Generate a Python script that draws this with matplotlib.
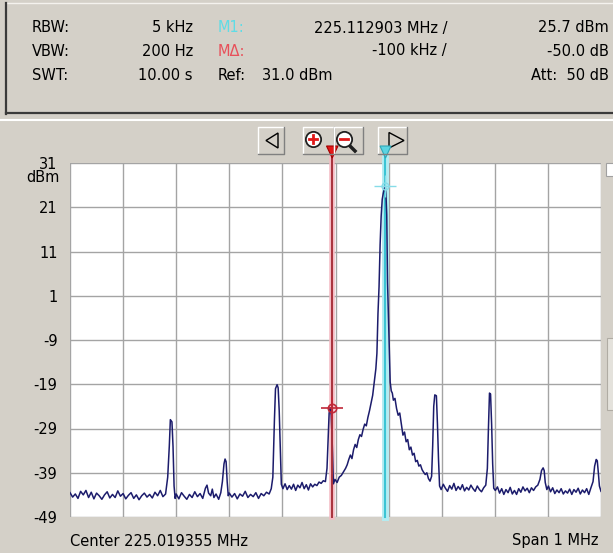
import numpy as np
import matplotlib.pyplot as plt
from matplotlib.patches import Rectangle, Polygon
from matplotlib.lines import Line2D

# analyzer settings shown in the header
center_mhz = 225.019355
span_mhz = 1.0
ref_dbm = 31.0
m1_mhz = 225.112903
m1_dbm = 25.7
delta_khz = -100
delta_db = -50.0

ytick_vals = [31, 21, 11, 1, -9, -19, -29, -39, -49]

# trace: offset from start of span (kHz) and level (dBm)
trace_khz = [
    0, 5, 10, 15, 20, 25, 30, 35, 40, 45, 50, 55, 60, 65, 70, 75, 80, 85, 90, 95,
    100, 105, 110, 115, 120, 125, 130, 135, 140, 145, 150, 155, 160, 165, 170, 175, 180,
    184, 187, 189, 192, 194, 196, 198,
    200, 205, 210, 215, 220, 225, 230, 235, 240, 245, 250, 255, 258, 261, 265, 268, 271, 275, 280, 284,
    287, 290, 292, 294, 296, 298,
    300, 305, 310, 315, 320, 325, 330, 335, 340, 345, 350, 355, 360, 365, 370, 375, 379, 382,
    385, 387, 390, 392, 394, 396, 398,
    401, 405, 409, 413, 417, 421, 425, 429, 433, 437, 441, 445, 449, 453, 457, 461, 465, 469, 473, 477, 481, 484,
    486, 488, 490, 492, 494, 496,
    499, 503, 507, 511, 515, 519, 522, 525, 528, 531, 534, 537, 540, 543, 546, 549, 552, 555, 558, 561, 564,
    567, 570, 573, 576, 578, 580, 582, 584, 586, 588, 590, 592, 593.5, 595, 596.5, 598, 600, 601.5, 603,
    605, 607, 609, 612, 615, 618, 621, 624, 627, 630, 633, 636, 639, 642, 645, 648, 651, 654, 657, 660,
    663, 666, 669, 672, 675, 678, 681,
    683, 685, 687, 690, 692, 694, 696,
    699, 703, 707, 711, 715, 719, 723, 727, 731, 735, 739, 743, 747, 751, 755, 759, 763, 767, 771, 775, 779, 783, 786,
    788, 790, 792, 794, 796, 798,
    801, 805, 809, 813, 817, 821, 825, 829, 833, 837, 841, 845, 849, 853, 857, 861, 865, 869, 873, 877, 881, 885,
    888, 891, 893, 895, 898,
    901, 905, 909, 913, 917, 921, 925, 929, 933, 937, 941, 945, 949, 953, 957, 961, 965, 969, 973, 977, 981, 985,
    988, 991, 993, 995, 997, 1000,
]
trace_dbm = [
    -43.5, -44.5, -43.8, -44.8, -43.2, -44.0, -43.0, -44.6, -43.4, -44.9, -43.6, -44.2, -45.0, -44.0, -43.3, -44.7, -43.9, -44.6, -43.1, -44.3,
    -43.7, -44.9, -44.1, -43.5, -44.8, -44.0, -45.1, -44.2, -43.6, -44.5, -43.9, -44.7, -43.4, -44.2, -43.0, -44.4, -43.8,
    -40.0, -33.0, -27.0, -27.5, -33.0, -42.0, -44.8,
    -43.8, -44.9, -43.5, -44.3, -45.0, -43.9, -44.6, -43.3, -44.4, -43.7, -44.8, -42.5, -41.8, -43.6, -44.2, -42.7, -44.6, -43.8, -45.0, -43.5,
    -41.0, -37.0, -35.9, -36.5, -41.0, -44.2,
    -43.6, -44.5, -43.7, -44.9, -43.8, -44.3, -43.2, -44.6, -43.9, -44.4, -43.5, -44.8, -43.7, -44.2, -43.4, -43.8, -42.6, -40.0,
    -27.0, -20.0, -19.1, -19.8, -25.0, -33.0, -41.6,
    -42.6, -41.5, -42.8, -41.9, -42.7, -41.6, -43.0, -41.8, -42.4, -41.2, -42.6, -41.7, -42.9, -41.5, -42.2, -41.6, -41.9, -41.1, -41.4, -40.8, -41.0, -38.0,
    -32.0, -25.5, -24.3, -26.0, -33.0, -41.5,
    -40.5, -41.2, -40.0, -39.6, -38.8, -38.0, -37.2, -36.0, -35.0, -35.8, -33.8, -32.6, -33.3, -31.5, -30.4, -30.8, -29.2, -28.0, -28.4, -26.5, -25.0,
    -23.2, -21.5, -18.5, -15.5, -12.0, -3.0, 3.0, 12.5, 19.0, 22.8, 24.2, 25.2, 25.7, 24.0, 19.3, 4.0, -5.0, -11.2, -18.5,
    -20.5, -21.0, -22.6, -22.2, -24.5, -26.0, -25.5, -28.0, -30.5, -29.8, -32.0, -31.5, -33.8, -33.2, -35.0, -34.6, -36.5, -36.2, -37.5, -37.2,
    -38.3, -38.9, -39.4, -39.0, -40.3, -40.9, -39.8,
    -33.0, -24.0, -21.4, -21.6, -28.0, -36.0, -42.0,
    -42.8, -41.6, -42.5, -43.2, -41.9, -42.7, -41.4, -43.0, -42.1, -42.8, -41.7, -43.1, -42.3, -42.9, -41.8, -42.6, -43.2, -42.0, -42.8, -43.3, -42.4, -41.8, -38.0,
    -29.0, -21.0, -21.2, -28.0, -37.0, -42.5,
    -43.0, -42.2, -43.6, -42.6, -43.9, -42.8, -43.5, -42.3, -43.8, -43.0, -43.9, -42.6, -43.4, -42.2, -43.1, -42.5, -43.5, -42.4, -43.0, -42.2, -41.8, -40.5,
    -38.5, -37.9, -38.5, -41.2, -42.8,
    -42.0, -43.3, -42.4, -43.7, -42.9, -43.5, -42.6, -43.8, -43.1, -43.6, -42.7, -43.9, -42.8, -43.4, -42.5, -43.8, -42.9, -43.5, -42.6, -43.9, -42.4, -41.0,
    -37.5, -36.0, -36.3, -39.0, -42.0, -43.2,
]

W, H = 613, 553
BG = '#d4d0c8'
FONT = 'DejaVu Sans'
FS = 10.5

fig = plt.figure(figsize=(W / 100, H / 100), dpi=100, facecolor=BG)


def fx(px):
    return px / W


def fy(py):
    return 1 - py / H


def line(xs, ys, **kw):
    fig.add_artist(Line2D([fx(x) for x in xs], [fy(y) for y in ys],
                          transform=fig.transFigure, **kw))


def rect(x0, y0, x1, y1, **kw):
    fig.add_artist(Rectangle((fx(x0), fy(y1)), fx(x1) - fx(x0), fy(y0) - fy(y1),
                             transform=fig.transFigure, **kw))


def poly(pts, **kw):
    fig.add_artist(Polygon([(fx(x), fy(y)) for x, y in pts],
                           transform=fig.transFigure, **kw))


def button(x0, y0, x1, y1):
    rect(x0, y0, x1, y1, facecolor=BG, edgecolor='none')
    line([x0, x0, x1], [y1, y0, y0], color='white', lw=1)
    line([x0, x1, x1], [y1, y1, y0], color='#808080', lw=1)


# header panel
rect(6, 3, 640, 113, facecolor=BG, edgecolor='none')
line([6, 640], [3, 3], color='#f4f2ee', lw=1)
line([6, 6], [3, 113.5], color='#3a3a3a', lw=1.6)
line([6, 640], [113, 113], color='#3a3a3a', lw=1.6)
line([0, 640], [120, 120], color='white', lw=1.5)

rows = [28, 51, 75]
for y, lab, val in zip(rows, ['RBW:', 'VBW:', 'SWT:'], ['5 kHz', '200 Hz', '10.00 s']):
    fig.text(fx(32), fy(y), lab, ha='left', va='center', fontsize=FS, family=FONT)
    fig.text(fx(193), fy(y), val, ha='right', va='center', fontsize=FS, family=FONT)

fig.text(fx(218), fy(rows[0]), 'M1:', ha='left', va='center', fontsize=FS, family=FONT, color='#5fdce6')
fig.text(fx(218), fy(rows[1]), 'M\u0394:', ha='left', va='center', fontsize=FS, family=FONT, color='#e8505a')
fig.text(fx(218), fy(rows[2]), 'Ref:', ha='left', va='center', fontsize=FS, family=FONT)
fig.text(fx(447), fy(rows[0]), f'{m1_mhz:.6f} MHz /', ha='right', va='center', fontsize=FS, family=FONT)
fig.text(fx(447), fy(rows[1]), f'{delta_khz} kHz /', ha='right', va='center', fontsize=FS, family=FONT)
fig.text(fx(262), fy(rows[2]), f'{ref_dbm:.1f} dBm', ha='left', va='center', fontsize=FS, family=FONT)
fig.text(fx(609), fy(rows[0]), f'{m1_dbm:.1f} dBm', ha='right', va='center', fontsize=FS, family=FONT)
fig.text(fx(609), fy(rows[1]), f'{delta_db:.1f} dB', ha='right', va='center', fontsize=FS, family=FONT)
fig.text(fx(609), fy(rows[2]), 'Att:  50 dB', ha='right', va='center', fontsize=FS, family=FONT)

# toolbar buttons
button(258, 127, 284, 154)
poly([(266, 140.5), (278, 133), (278, 148)], closed=True, facecolor='none', edgecolor='black', lw=1)
button(303, 127, 334, 154)
button(334, 127, 363, 154)
line([313], [139], marker='o', ms=11, mfc='white', mec='#202020', mew=1.3)
line([309, 317], [139, 139], color='#e01818', lw=2)
line([313, 313], [135, 143], color='#e01818', lw=2)
line([348, 355], [144, 151], color='#202020', lw=2.5)
line([344], [139], marker='o', ms=11, mfc='white', mec='#202020', mew=1.3)
line([340, 348], [139, 139], color='#e01818', lw=2)
button(378, 127, 407, 154)
poly([(389, 132.5), (389, 148), (404, 140.5)], closed=True, facecolor='none', edgecolor='black', lw=1)

# right edge scroll pieces
rect(606, 163, 614, 176, facecolor='white', edgecolor='#a0a0a0', lw=0.8)
rect(607, 338, 614, 410, facecolor='#e4e2dc', edgecolor='#b0aca4', lw=0.8)

# spectrum display
ax = fig.add_axes([fx(70), fy(517), fx(601) - fx(70), fy(163) - fy(517)])
ax.set_facecolor('white')
start = center_mhz - span_mhz / 2
stop = center_mhz + span_mhz / 2
ax.set_xlim(start, stop)
ax.set_ylim(ytick_vals[-1], ytick_vals[0])
ax.set_xticks(np.linspace(start, stop, 11))
ax.set_xticklabels([])
ax.set_yticks(ytick_vals)
ax.set_yticklabels([str(v) for v in ytick_vals], fontsize=FS, family=FONT)
ax.tick_params(length=0, pad=9)
ax.grid(color='#a4a4a4', lw=1)
for s in ax.spines.values():
    s.set_visible(False)

freqs = [start + k / 1000 for k in trace_khz]
ax.plot(freqs, trace_dbm, color='#1c1c6c', lw=1.1, zorder=3)

delta_mhz = m1_mhz + delta_khz / 1000
top = 1.035
ax.axvline(m1_mhz, ymax=top, color='#b4ecf2', lw=5, clip_on=False, zorder=2)
ax.axvline(m1_mhz, ymax=top, color='#3cc4d4', lw=1.5, clip_on=False, zorder=2.5)
ax.axvline(delta_mhz, ymax=top, color='#f4bcc4', lw=4, clip_on=False, zorder=2)
ax.axvline(delta_mhz, ymax=top, color='#a8323c', lw=1.4, clip_on=False, zorder=4)

ax.plot([m1_mhz], [m1_dbm], marker='+', ms=16, mew=1, color='#86dce8', zorder=5)
ax.plot([m1_mhz], [m1_dbm], marker='o', ms=5, mfc='none', mew=1, mec='#86dce8', zorder=5)
ax.plot([delta_mhz], [m1_dbm + delta_db], marker='+', ms=16, mew=1.2, color='#c02838', zorder=5)
ax.plot([delta_mhz], [m1_dbm + delta_db], marker='o', ms=6, mfc='none', mew=1.2, mec='#c02838', zorder=5)

# marker flags on the toolbar
poly([(326.5, 146), (338, 146), (332.2, 158)], closed=True, facecolor='#e41818', edgecolor='#a00000', lw=0.8)
poly([(380, 146), (391, 146), (385.5, 158)], closed=True, facecolor='#5cd4e2', edgecolor='#30a8b8', lw=0.8)

fig.text(fx(60), fy(178), 'dBm', ha='right', va='center', fontsize=FS, family=FONT)
fig.text(fx(70), fy(541), f'Center {center_mhz:.6f} MHz', ha='left', va='center', fontsize=FS, family=FONT)
fig.text(fx(599), fy(541), f'Span {span_mhz:g} MHz', ha='right', va='center', fontsize=FS, family=FONT)

fig.savefig('out.png', dpi=100, facecolor=BG)
